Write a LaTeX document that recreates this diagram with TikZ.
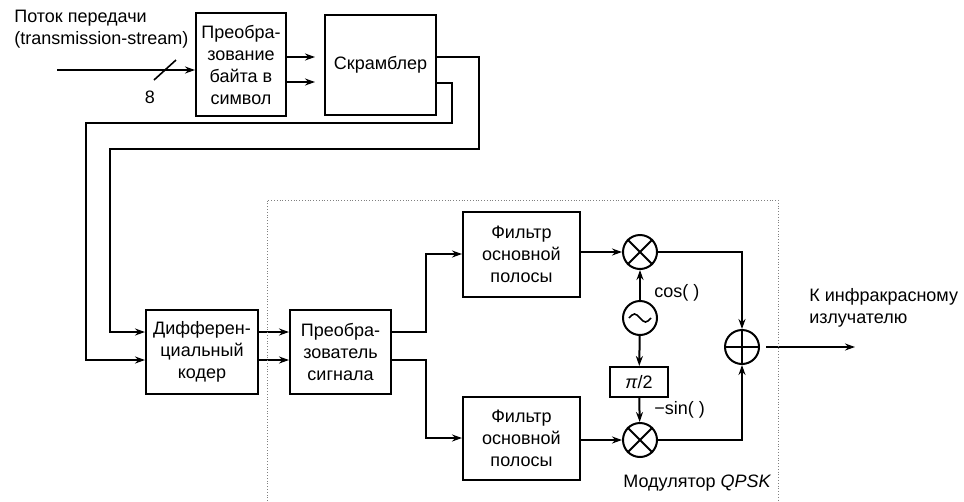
\documentclass[tikz,border=0pt]{standalone}
\usepackage{fontspec}
\setmainfont{Liberation Sans}
\usetikzlibrary{arrows.meta}
\begin{document}
\begin{tikzpicture}[>={Stealth[length=10pt,width=7pt]}, x=1pt, y=-1pt, line width=2pt,
    every node/.style={font=\fontsize{18}{22}\selectfont},
    block/.style={draw, align=center, inner sep=0pt},
    op/.style={draw, circle, minimum size=34pt, inner sep=0pt}]
\useasboundingbox (0,0) rectangle (964,501);

% blocks
\node[block, minimum width=90pt, minimum height=103pt] (bconv) at (241,64.5) {Преобра-\\зование\\байта в\\символ};
\node[block, minimum width=111pt, minimum height=100pt] (scr) at (380.5,65) {Скрамблер};
\node[block, minimum width=112pt, minimum height=84pt] (diff) at (202,352) {Дифферен-\\циальный\\кодер};
\node[block, minimum width=101pt, minimum height=84pt] (sconv) at (340.5,352) {Преобра-\\зователь\\сигнала};
\node[block, minimum width=117pt, minimum height=85pt] (filt1) at (521.5,254) {Фильтр\\основной\\полосы};
\node[block, minimum width=117pt, minimum height=83pt] (filt2) at (521.5,438) {Фильтр\\основной\\полосы};
\node[op] (mul1) at (640,252) {};
\node[op] (osc) at (640,318) {};
\node[block, minimum width=58pt, minimum height=30pt] (pi2) at (639,382) {{\itshape π}/2};
\node[op] (mul2) at (640,440) {};
\node[op] (sum) at (742,347) {};

\foreach \m in {mul1,mul2}
{
    \draw (\m.north east)--(\m.south west) (\m.north west)--(\m.south east);
}
\draw (sum.north)--(sum.south) (sum.west)--(sum.east);
\draw[line width=1.6pt] ([xshift=-11pt]osc.center) sin ++(5.5,-4) cos ++(5.5,4) sin ++(5.5,4) cos ++(5.5,-4);

% input
\node[anchor=west, align=left] (src) at (10,29) {Поток передачи\\(transmission-stream)};
\coordinate (in) at (57,70);
\draw[->] (in)--(in -| bconv.west);
\coordinate (bus) at (165,70);
\draw[line width=1.6pt] ([shift={(-11pt,-10pt)}]bus)--([shift={(11pt,10pt)}]bus);
\node (nbits) at (150,97) {8};

\coordinate (b1) at ([yshift=7.5pt]bconv.east);
\coordinate (b2) at ([yshift=-17.5pt]bconv.east);
\draw[->, shorten >=9pt] (b1)--(b1 -| scr.west);
\draw[->, shorten >=9pt] (b2)--(b2 -| scr.west);

% scrambler to coder
\coordinate (s1) at ([yshift=8pt]scr.east);
\coordinate (s2) at ([yshift=-18pt]scr.east);
\coordinate (d1) at ([yshift=20pt]diff.west);
\coordinate (d2) at ([yshift=-8pt]diff.west);
\draw[->] (s1) -| (479,149) -- (110,149) |- (d1);
\draw[->] (s2) -| (452,123) -- (86,123) |- (d2);

\draw[->] ([yshift=20pt]diff.east)--([yshift=20pt]sconv.west);
\draw[->] ([yshift=-8pt]diff.east)--([yshift=-8pt]sconv.west);
\draw[->] ([yshift=20pt]sconv.east)--++(34,0) |- (filt1.west);
\draw[->] ([yshift=-8pt]sconv.east)--++(34,0) |- (filt2.west);

% modulator
\draw[->] (filt1.east |- mul1)--(mul1);
\draw[->] (filt2.east |- mul2)--(mul2);
\draw[->] (osc)--(mul1);
\draw[->] (osc)--(pi2);
\draw[->] (pi2)--(mul2);
\draw[->] (mul1) -| (sum);
\draw[->] (mul2) -| (sum);
\node[anchor=west] (cosl) at (650,293) {cos( )};
\node[anchor=west] (sinl) at (650,410) {−sin( )};

\coordinate (out) at (855,347);
\draw[->, shorten <=6pt] (sum)--(out);
\node[anchor=west, align=left] (dest) at (805,308) {К инфракрасному\\излучателю};

\draw[dotted, gray, line width=0.8pt] (267,501)--(267,200)--(778,200)--(778,501);
\node[anchor=east] (modl) at (775,483) {Модулятор {\itshape QPSK}};
\end{tikzpicture}
\end{document}
